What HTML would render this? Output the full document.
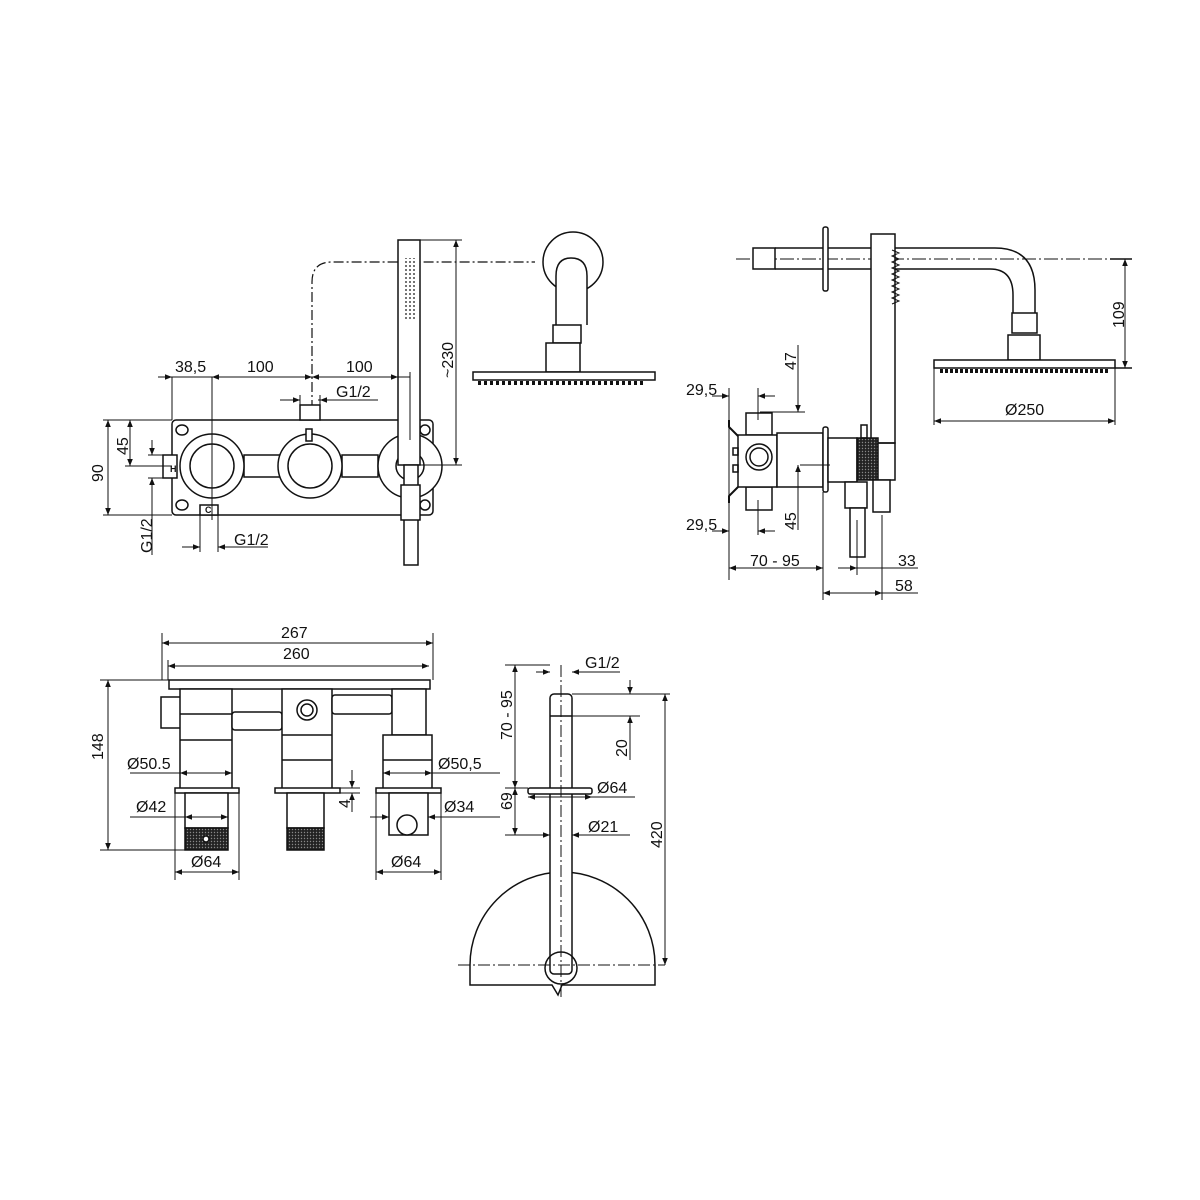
<!DOCTYPE html>
<html><head><meta charset="utf-8"><style>
html,body{margin:0;padding:0;background:#fff}
svg{display:block}
text{font-family:"Liberation Sans",sans-serif;font-size:16px;fill:#111}
</style></head><body>
<svg width="1200" height="1200" viewBox="0 0 1200 1200" xmlns="http://www.w3.org/2000/svg">
<defs>
<marker id="a" viewBox="0 0 10 10" refX="10" refY="5" markerWidth="9" markerHeight="7" orient="auto-start-reverse"><path d="M0,1 L10,5 L0,9 z" fill="#111"/></marker>
<pattern id="k" width="3" height="3" patternUnits="userSpaceOnUse"><rect width="3" height="3" fill="#222"/><circle cx="1.5" cy="1.5" r="0.7" fill="#888"/></pattern>
<pattern id="dots" width="4" height="4" patternUnits="userSpaceOnUse"><circle cx="2" cy="2" r="0.9" fill="#111"/></pattern>
</defs>
<g fill="none" stroke="#111" stroke-width="1.5">
<path d="M312,410 V282 Q312,262 332,262 H535" stroke-dasharray="10,3,2,3" stroke-width="1.2"/>
<rect x="172" y="420" width="261" height="95" rx="4"/>
<ellipse cx="182" cy="430" rx="6" ry="5"/><ellipse cx="182" cy="505" rx="6" ry="5"/>
<ellipse cx="425" cy="430" rx="5" ry="5"/><ellipse cx="425" cy="505" rx="5" ry="5"/>
<rect x="244" y="455" width="36" height="22" fill="#fff"/>
<rect x="342" y="455" width="36" height="22" fill="#fff"/>
<circle cx="212" cy="466" r="32" fill="#fff"/><circle cx="212" cy="466" r="22"/>
<circle cx="310" cy="466" r="32" fill="#fff"/><circle cx="310" cy="466" r="22"/>
<circle cx="410" cy="466" r="32" fill="#fff"/><circle cx="410" cy="466" r="14"/>
<rect x="163" y="455" width="14" height="23" fill="#fff"/>
<rect x="200" y="505" width="18" height="10" fill="#fff"/>
<rect x="300" y="405" width="20" height="15" fill="#fff"/>
<rect x="306" y="429" width="6" height="12" fill="#fff"/>
<rect x="398" y="240" width="22" height="225" fill="#fff"/>
<rect x="403" y="258" width="13" height="62" fill="url(#dots)" stroke="none"/>
<rect x="404" y="465" width="14" height="100" fill="#fff"/>
<rect x="401" y="485" width="19" height="35" fill="#fff"/>
<circle cx="573" cy="262" r="30"/>
<path d="M556,325 V276 Q556,258 571,258 Q587,258 587,276 V325" fill="#fff"/>
<rect x="553" y="325" width="28" height="18" fill="#fff"/>
<rect x="546" y="343" width="34" height="29" fill="#fff"/>
<rect x="473" y="372" width="182" height="8" fill="#fff"/>
<path d="M478,383 h168" stroke-dasharray="3,3" stroke-width="4"/>
<g stroke-width="1">
<path d="M172,377 H410" /><path d="M158,377 H172" marker-end="url(#a)"/>
<path d="M212,377 H312" marker-start="url(#a)" marker-end="url(#a)"/>
<path d="M312,377 H398" marker-start="url(#a)" marker-end="url(#a)"/>
<path d="M172,377 V420 M212,377 V520 M410,372 V440"/>
<path d="M280,400 H300" marker-end="url(#a)"/><path d="M340,400 H320" marker-end="url(#a)"/><path d="M300,395 V405 M320,395 V405 M318,400 H378"/>
<path d="M420,240 H462 M420,465 H462"/><path d="M456,240 V465" marker-start="url(#a)" marker-end="url(#a)"/>
<path d="M103,420 H172 M103,515 H172"/><path d="M108,420 V515" marker-start="url(#a)" marker-end="url(#a)"/>
<path d="M125,466 H172"/><path d="M130,420 V466" marker-start="url(#a)" marker-end="url(#a)"/>
<path d="M148,455 H163 M148,478 H163"/><path d="M152,440 V455" marker-end="url(#a)"/><path d="M152,493 V478" marker-end="url(#a)"/><path d="M152,478 V555"/>
<path d="M200,515 V552 M218,515 V552"/><path d="M182,547 H200" marker-end="url(#a)"/><path d="M236,547 H218" marker-end="url(#a)"/><path d="M218,547 H268"/>
</g>
<path d="M736,259 H1125" stroke-dasharray="14,3,2,3" stroke-width="1"/>
<rect x="753" y="248" width="22" height="21" fill="#fff"/>
<path d="M775,248 H995 Q1035,248 1035,290 V315 M775,269 H990 Q1013,269 1013,295 V315"/>
<rect x="823" y="227" width="5" height="64" rx="2" fill="#fff"/>
<rect x="871" y="234" width="24" height="209" fill="#fff"/>
<path d="M892,250 l7,3 l-7,3 l7,3 l-7,3 l7,3 l-7,3 l7,3 l-7,3 l7,3 l-7,3 l7,3 l-7,3 l7,3 l-7,3 l7,3 l-7,3 l7,3 l-7,3" stroke-width="1"/>
<rect x="1012" y="313" width="25" height="20" fill="#fff"/>
<rect x="1008" y="335" width="32" height="25" fill="#fff"/>
<rect x="934" y="360" width="181" height="8" fill="#fff"/>
<path d="M940,371 h170" stroke-dasharray="3,2" stroke-width="4"/>
<path d="M1110,259 H1132 M1115,368 H1132"/><path d="M1125,259 V368" stroke-width="1" marker-start="url(#a)" marker-end="url(#a)"/>
<path d="M934,368 V425 M1115,368 V425" stroke-width="1"/><path d="M934,421 H1115" stroke-width="1" marker-start="url(#a)" marker-end="url(#a)"/>
<rect x="746" y="413" width="26" height="22" fill="#fff"/>
<rect x="746" y="487" width="26" height="23" fill="#fff"/>
<rect x="738" y="435" width="39" height="52" fill="#fff"/>
<circle cx="759" cy="457" r="13"/><circle cx="759" cy="457" r="9"/>
<rect x="733" y="448" width="5" height="7"/><rect x="733" y="465" width="5" height="7"/>
<path d="M729,420 V427 L738,436 M729,503 V496 L738,487" stroke-width="2"/>
<rect x="777" y="433" width="46" height="54" fill="#fff"/>
<rect x="823" y="427" width="5" height="65" rx="2" fill="#fff"/>
<rect x="828" y="438" width="29" height="44" fill="#fff"/>
<rect x="857" y="438" width="21" height="42" fill="url(#k)"/>
<rect x="861" y="425" width="6" height="13"/>
<path d="M878,443 H895 V480 H878"/>
<rect x="845" y="482" width="22" height="26" fill="#fff"/><rect x="850" y="508" width="15" height="49" fill="#fff"/>
<rect x="873" y="480" width="17" height="32" fill="#fff"/>
<g stroke-width="1">
<path d="M729,388 V580 M758,388 V420 M758,500 V535"/>
<path d="M712,396 H729" marker-end="url(#a)"/><path d="M775,396 H758" marker-end="url(#a)"/>
<path d="M712,531 H729" marker-end="url(#a)"/><path d="M775,531 H758" marker-end="url(#a)"/>
<path d="M760,412 H805 M800,465 H830"/>
<path d="M798,345 V412" /><path d="M798,385 V412" marker-end="url(#a)"/>
<path d="M798,490 V465" marker-end="url(#a)"/><path d="M798,465 V530"/>
<path d="M823,492 V600 M857,520 V575 M882,515 V600"/>
<path d="M729,568 H823" marker-start="url(#a)" marker-end="url(#a)"/>
<path d="M838,568 H857" marker-end="url(#a)"/><path d="M857,568 H918"/>
<path d="M823,593 H882" marker-start="url(#a)" marker-end="url(#a)"/><path d="M882,593 H918"/>
</g>
<rect x="169" y="680" width="261" height="9" fill="#fff"/>
<rect x="161" y="697" width="21" height="31" fill="#fff"/>
<rect x="180" y="689" width="52" height="100" fill="#fff"/>
<path d="M180,714 H232 M180,740 H232"/>
<rect x="232" y="712" width="50" height="18" rx="3" fill="#fff"/>
<rect x="282" y="689" width="50" height="100" fill="#fff"/>
<path d="M282,735 H332 M282,760 H332"/>
<circle cx="307" cy="710" r="10"/><circle cx="307" cy="710" r="6"/>
<rect x="332" y="695" width="60" height="19" rx="3" fill="#fff"/>
<rect x="392" y="689" width="34" height="46" fill="#fff"/>
<rect x="383" y="735" width="49" height="54" fill="#fff"/><path d="M383,760 H432"/>
<rect x="175" y="788" width="64" height="5" fill="#fff"/>
<rect x="275" y="788" width="65" height="5" fill="#fff"/>
<rect x="376" y="788" width="65" height="5" fill="#fff"/>
<rect x="185" y="793" width="43" height="35" fill="#fff"/><rect x="185" y="828" width="43" height="22" fill="url(#k)"/>
<circle cx="206" cy="839" r="3" fill="#fff"/>
<rect x="287" y="793" width="37" height="35" fill="#fff"/><rect x="287" y="828" width="37" height="22" fill="url(#k)"/>
<rect x="389" y="793" width="39" height="42" fill="#fff"/>
<circle cx="407" cy="825" r="10" fill="#fff"/>
<g stroke-width="1">
<path d="M162,633 V680 M433,633 V680 M168,660 V680"/>
<path d="M162,643 H433" marker-start="url(#a)" marker-end="url(#a)"/>
<path d="M168,666 H429" marker-start="url(#a)" marker-end="url(#a)"/>
<path d="M100,680 H169 M100,850 H185"/><path d="M108,680 V850" marker-start="url(#a)" marker-end="url(#a)"/>
<path d="M130,773 H180"/><path d="M180,773 H232" marker-start="url(#a)" marker-end="url(#a)"/>
<path d="M383,773 H432" marker-start="url(#a)" marker-end="url(#a)"/><path d="M432,773 H500"/>
<path d="M130,817 H185"/><path d="M185,817 H228" marker-start="url(#a)" marker-end="url(#a)"/>
<path d="M370,817 H389" marker-end="url(#a)"/><path d="M448,817 H428" marker-end="url(#a)"/><path d="M428,817 H500"/>
<path d="M340,788 H360 M340,793 H360"/><path d="M352,770 V788" marker-end="url(#a)"/><path d="M352,812 V793" marker-end="url(#a)"/>
<path d="M175,793 V880 M239,793 V880 M376,793 V880 M441,793 V880"/>
<path d="M175,872 H239" marker-start="url(#a)" marker-end="url(#a)"/>
<path d="M376,872 H441" marker-start="url(#a)" marker-end="url(#a)"/>
</g>
<path d="M470,965 V985 H552 L558,995 L562,985 H655 V965 A93,93 0 0 0 562,872 A93,93 0 0 0 470,965" fill="#fff"/>
<rect x="550" y="694" width="22" height="280" rx="4" fill="#fff"/>
<path d="M550,716 H572"/>
<circle cx="561" cy="968" r="16"/>
<rect x="528" y="788" width="64" height="6" rx="2" fill="#fff"/>
<g stroke-width="1">
<path d="M561,665 V1000 M458,965 H665" stroke-dasharray="12,3,2,3"/>
<path d="M536,672 H550" marker-end="url(#a)"/><path d="M586,672 H572" marker-end="url(#a)"/><path d="M572,672 H620"/>
<path d="M505,665 H550 M572,694 H670 M572,716 H640 M505,788 H528 M505,835 H550"/>
<path d="M515,665 V788" marker-start="url(#a)" marker-end="url(#a)"/>
<path d="M515,788 V835" marker-start="url(#a)" marker-end="url(#a)"/>
<path d="M630,680 V694" marker-end="url(#a)"/><path d="M630,730 V716" marker-end="url(#a)"/><path d="M630,716 V760"/>
<path d="M665,694 V965" marker-start="url(#a)" marker-end="url(#a)"/>
<path d="M528,797 H592" marker-start="url(#a)" marker-end="url(#a)"/><path d="M592,797 H635"/>
<path d="M535,835 H550" marker-end="url(#a)"/><path d="M586,835 H572" marker-end="url(#a)"/><path d="M572,835 H630"/>
</g>
</g>
<text x="175" y="372">38,5</text><text x="247" y="372">100</text><text x="346" y="372">100</text>
<text x="336" y="397">G1/2</text>
<text x="234" y="545">G1/2</text>
<text transform="translate(103,482) rotate(-90)">90</text>
<text transform="translate(128,455) rotate(-90)">45</text>
<text transform="translate(152,553) rotate(-90)">G1/2</text>
<text transform="translate(453,378) rotate(-90)">~230</text>
<text x="170" y="472" style="font-size:9px;font-weight:bold">H</text>
<text x="205" y="513" style="font-size:9px;font-weight:bold">C</text>
<text x="686" y="395">29,5</text><text x="686" y="530">29,5</text>
<text transform="translate(796,370) rotate(-90)">47</text>
<text transform="translate(796,530) rotate(-90)">45</text>
<text x="750" y="566">70 - 95</text><text x="898" y="566">33</text><text x="895" y="591">58</text>
<text transform="translate(1124,328) rotate(-90)">109</text>
<text x="1005" y="415">Ø250</text>
<text x="281" y="638">267</text><text x="283" y="659">260</text>
<text transform="translate(103,760) rotate(-90)">148</text>
<text x="127" y="769">Ø50.5</text><text x="438" y="769">Ø50,5</text>
<text x="136" y="812">Ø42</text><text x="444" y="812">Ø34</text>
<text transform="translate(350,808) rotate(-90)">4</text>
<text x="191" y="867">Ø64</text><text x="391" y="867">Ø64</text>
<text x="585" y="668">G1/2</text>
<text transform="translate(512,740) rotate(-90)">70 - 95</text>
<text transform="translate(627,757) rotate(-90)">20</text>
<text transform="translate(512,810) rotate(-90)">69</text>
<text transform="translate(662,848) rotate(-90)">420</text>
<text x="597" y="793">Ø64</text><text x="588" y="832">Ø21</text>
</svg>
</body></html>
